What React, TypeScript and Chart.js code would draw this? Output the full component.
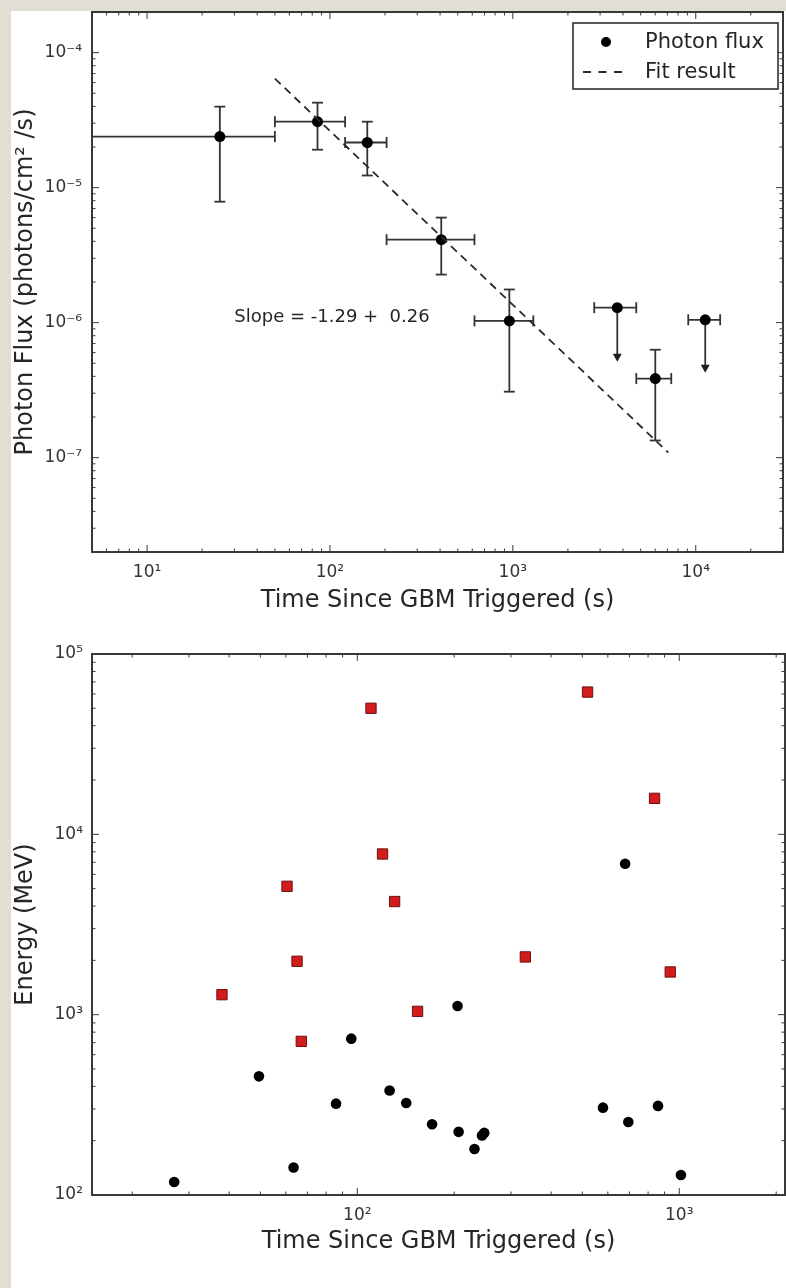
import React, { useEffect, useRef } from 'react';
import { Chart, registerables } from 'chart.js';

Chart.register(...registerables);

const FONT = '"DejaVu Sans", "Bitstream Vera Sans", "Liberation Sans", sans-serif';
const INK = '#262626';
const AXIS = '#383838';

// ---------------- top panel: photon flux light curve ----------------
const fluxTime = [25, 85.5, 160, 406, 957, 6010];
const fluxValue = [2.39e-5, 3.08e-5, 2.16e-5, 4.12e-6, 1.03e-6, 3.85e-7];
const fluxTimeLow = [1, 50, 121, 204, 617, 4730];
const fluxTimeHigh = [50, 121, 204, 617, 1294, 7350];
const fluxLow = [7.87e-6, 1.91e-5, 1.23e-5, 2.27e-6, 3.08e-7, 1.34e-7];
const fluxHigh = [3.98e-5, 4.26e-5, 3.08e-5, 6.0e-6, 1.76e-6, 6.3e-7];

const limitTime = [3724, 11270];
const limitValue = [1.29e-6, 1.05e-6];
const limitTimeLow = [2786, 9100];
const limitTimeHigh = [4730, 13600];
const limitArrowTo = [5.14e-7, 4.26e-7];

const fitTime = [50, 7080];
const fitValue = [6.42e-5, 1.09e-7];

const topXRange = [5, 30000];
const topYRange = [2e-8, 2e-4];
const topXTicks = [1e1, 1e2, 1e3, 1e4];
const topYTicks = [1e-7, 1e-6, 1e-5, 1e-4];
const topXTitle = 'Time Since GBM Triggered (s)';
const topYTitle = 'Photon Flux (photons/cm² /s)';
const legendLabels = ['Photon flux', 'Fit result'];
const slopeText = 'Slope = -1.29 +  0.26';
const slopeAt = [30, 1.09e-6];

// ---------------- bottom panel: photon energies ----------------
const blackTime = [27, 49.5, 63.4, 85.9, 95.8, 126, 141.9, 170.7, 204.8, 206.4, 231.2, 244, 248, 579.5, 679, 694.7, 859, 1012];
const blackEnergy = [118, 455, 142, 321, 736, 380, 324, 247, 1117, 224, 180, 214, 221, 305, 6875, 254, 312, 129];
const redTime = [38, 60.5, 65, 67, 110.3, 119.8, 130.6, 153.9, 332.6, 519, 838, 937.5];
const redEnergy = [1291, 5150, 1977, 711, 50000, 7780, 4240, 1043, 2090, 61500, 15830, 1725];

const bottomXRange = [15, 2130];
const bottomYRange = [100, 100000];
const bottomXTicks = [1e2, 1e3];
const bottomYTicks = [1e2, 1e3, 1e4, 1e5];
const bottomXTitle = 'Time Since GBM Triggered (s)';
const bottomYTitle = 'Energy (MeV)';

// ---------------- helpers ----------------
const SUP: Record<string, string> = {
  '-': '⁻', '0': '⁰', '1': '¹', '2': '²', '3': '³', '4': '⁴',
  '5': '⁵', '6': '⁶', '7': '⁷', '8': '⁸', '9': '⁹',
};
const pow10Label = (v: number) =>
  '10' + String(Math.round(Math.log10(v))).split('').map((c) => SUP[c] || c).join('');

function logAxis(
  range: number[],
  ticks: number[],
  title: string,
  horizontal: boolean,
  size: number,
  tickPad: number,
  titlePad: any
) {
  return {
    type: 'logarithmic',
    min: range[0],
    max: range[1],
    afterBuildTicks: (s: any) => {
      s.ticks = ticks.map((v) => ({ value: v }));
    },
    afterFit: (s: any) => {
      if (horizontal) s.height = size;
      else s.width = size;
      s.paddingTop = 0;
      s.paddingBottom = 0;
      s.paddingLeft = 0;
      s.paddingRight = 0;
    },
    grid: { display: false, drawTicks: false },
    border: { display: false },
    ticks: {
      autoSkip: false,
      maxRotation: 0,
      minRotation: 0,
      padding: tickPad,
      color: '#333',
      font: { family: FONT, size: 17 },
      callback: (v: any) => pow10Label(Number(v)),
    },
    title: {
      display: true,
      text: title,
      color: INK,
      font: { family: FONT, size: 24 },
      padding: titlePad,
    },
  };
}

// matplotlib-like frame with inward ticks on all four sides
const mplAxes = {
  id: 'mplAxes',
  afterDatasetsDraw(chart: any) {
    const { ctx, chartArea: a, scales } = chart;
    ctx.save();
    ctx.strokeStyle = AXIS;
    ctx.lineWidth = 1;
    const drawTicks = (scale: any, horizontal: boolean) => {
      const min = scale.min;
      const max = scale.max;
      const e0 = Math.floor(Math.log10(min));
      const e1 = Math.ceil(Math.log10(max));
      for (let e = e0; e <= e1; e++) {
        for (let k = 1; k <= 9; k++) {
          const v = k * Math.pow(10, e);
          if (v < min * 0.9999 || v > max * 1.0001) continue;
          const p = scale.getPixelForValue(v);
          const len = k === 1 ? 7 : 3.5;
          ctx.beginPath();
          if (horizontal) {
            ctx.moveTo(p, a.bottom);
            ctx.lineTo(p, a.bottom - len);
            ctx.moveTo(p, a.top);
            ctx.lineTo(p, a.top + len);
          } else {
            ctx.moveTo(a.left, p);
            ctx.lineTo(a.left + len, p);
            ctx.moveTo(a.right, p);
            ctx.lineTo(a.right - len, p);
          }
          ctx.stroke();
        }
      }
    };
    drawTicks(scales.x, true);
    drawTicks(scales.y, false);
    ctx.lineWidth = 2;
    ctx.strokeRect(a.left, a.top, a.right - a.left, a.bottom - a.top);
    ctx.restore();
  },
};

// error bars and upper-limit arrows for the flux panel
const fluxErrorBars = {
  id: 'fluxErrorBars',
  beforeDatasetsDraw(chart: any) {
    const { ctx, chartArea: a, scales } = chart;
    const x = scales.x;
    const y = scales.y;
    ctx.save();
    ctx.beginPath();
    ctx.rect(a.left, a.top, a.right - a.left, a.bottom - a.top);
    ctx.clip();
    ctx.strokeStyle = '#333333';
    ctx.fillStyle = '#1e1e1e';
    ctx.lineWidth = 1.8;
    const cap = 5.5;
    const seg = (x1: number, y1: number, x2: number, y2: number) => {
      ctx.beginPath();
      ctx.moveTo(x1, y1);
      ctx.lineTo(x2, y2);
      ctx.stroke();
    };
    fluxTime.forEach((t, i) => {
      const px = x.getPixelForValue(t);
      const py = y.getPixelForValue(fluxValue[i]);
      const xl = x.getPixelForValue(fluxTimeLow[i]);
      const xr = x.getPixelForValue(fluxTimeHigh[i]);
      const yt = y.getPixelForValue(fluxHigh[i]);
      const yb = y.getPixelForValue(fluxLow[i]);
      seg(xl, py, xr, py);
      seg(xl, py - cap, xl, py + cap);
      seg(xr, py - cap, xr, py + cap);
      seg(px, yt, px, yb);
      seg(px - cap, yt, px + cap, yt);
      seg(px - cap, yb, px + cap, yb);
    });
    limitTime.forEach((t, i) => {
      const px = x.getPixelForValue(t);
      const py = y.getPixelForValue(limitValue[i]);
      const xl = x.getPixelForValue(limitTimeLow[i]);
      const xr = x.getPixelForValue(limitTimeHigh[i]);
      const tip = y.getPixelForValue(limitArrowTo[i]);
      seg(xl, py, xr, py);
      seg(xl, py - cap, xl, py + cap);
      seg(xr, py - cap, xr, py + cap);
      seg(px, py, px, tip - 7);
      ctx.beginPath();
      ctx.moveTo(px - 4.5, tip - 8);
      ctx.lineTo(px + 4.5, tip - 8);
      ctx.lineTo(px, tip);
      ctx.closePath();
      ctx.fill();
    });
    ctx.restore();
  },
};

// legend box and slope annotation
const topDecor = {
  id: 'topDecor',
  afterDraw(chart: any) {
    const { ctx, chartArea: a, scales } = chart;
    ctx.save();
    ctx.fillStyle = INK;
    ctx.textBaseline = 'middle';
    ctx.textAlign = 'left';
    ctx.font = `18px ${FONT}`;
    ctx.fillText(slopeText, scales.x.getPixelForValue(slopeAt[0]), scales.y.getPixelForValue(slopeAt[1]));

    const bw = 205;
    const bh = 66;
    const bx = a.right - bw - 5;
    const by = a.top + 11;
    ctx.fillStyle = '#ffffff';
    ctx.fillRect(bx, by, bw, bh);
    ctx.lineWidth = 1.5;
    ctx.strokeStyle = '#222';
    ctx.strokeRect(bx, by, bw, bh);

    const r1 = by + 19;
    const r2 = by + 49;
    ctx.fillStyle = '#000';
    ctx.beginPath();
    ctx.arc(bx + 33, r1, 5, 0, Math.PI * 2);
    ctx.fill();
    ctx.strokeStyle = '#2a2a2a';
    ctx.lineWidth = 1.8;
    ctx.setLineDash([8, 7.5]);
    ctx.beginPath();
    ctx.moveTo(bx + 10, r2);
    ctx.lineTo(bx + 55, r2);
    ctx.stroke();
    ctx.setLineDash([]);

    ctx.fillStyle = INK;
    ctx.font = `21px ${FONT}`;
    ctx.fillText(legendLabels[0], bx + 72, r1 + 1);
    ctx.fillText(legendLabels[1], bx + 72, r2 + 1);
    ctx.restore();
  },
};

function buildTop(): any {
  return {
    type: 'scatter',
    data: {
      datasets: [
        {
          label: legendLabels[1],
          data: fitTime.map((t, i) => ({ x: t, y: fitValue[i] })),
          showLine: true,
          borderColor: '#2a2a2a',
          borderWidth: 1.8,
          borderDash: [8, 5.5],
          pointRadius: 0,
          fill: false,
        },
        {
          label: legendLabels[0],
          data: fluxTime.map((t, i) => ({ x: t, y: fluxValue[i] })),
          backgroundColor: '#000',
          borderColor: '#000',
          pointRadius: 5.5,
          borderWidth: 0,
        },
        {
          label: 'upper limits',
          data: limitTime.map((t, i) => ({ x: t, y: limitValue[i] })),
          backgroundColor: '#000',
          borderColor: '#000',
          pointRadius: 5.5,
          borderWidth: 0,
        },
      ],
    },
    options: {
      animation: false,
      responsive: false,
      devicePixelRatio: 1,
      layout: { autoPadding: false, padding: { top: 12, right: 3, left: 0, bottom: 0 } },
      plugins: { legend: { display: false }, tooltip: { enabled: false } },
      scales: {
        x: logAxis(topXRange, topXTicks, topXTitle, true, 88, 10, { top: 0, bottom: 25 }),
        y: logAxis(topYRange, topYTicks, topYTitle, false, 92, 10, { top: 11, bottom: 0 }),
      },
    },
    plugins: [fluxErrorBars, mplAxes, topDecor],
  };
}

function buildBottom(): any {
  return {
    type: 'scatter',
    data: {
      datasets: [
        {
          label: 'black',
          data: blackTime.map((t, i) => ({ x: t, y: blackEnergy[i] })),
          backgroundColor: '#000',
          borderColor: '#000',
          pointRadius: 5.3,
          borderWidth: 0,
        },
        {
          label: 'red',
          data: redTime.map((t, i) => ({ x: t, y: redEnergy[i] })),
          pointStyle: 'rect',
          backgroundColor: '#d21c1c',
          borderColor: '#6e1010',
          borderWidth: 1,
          pointRadius: 7.3,
        },
      ],
    },
    options: {
      animation: false,
      responsive: false,
      devicePixelRatio: 1,
      layout: { autoPadding: false, padding: { top: 14, right: 1, left: 0, bottom: 0 } },
      plugins: { legend: { display: false }, tooltip: { enabled: false } },
      scales: {
        x: logAxis(bottomXRange, bottomXTicks, bottomXTitle, true, 93, 10, { top: 0, bottom: 32 }),
        y: logAxis(bottomYRange, bottomYTicks, bottomYTitle, false, 92, 9, { top: 11, bottom: 0 }),
      },
    },
    plugins: [mplAxes],
  };
}

function ChartCanvas({ build, top, height }: { build: () => any; top: number; height: number }) {
  const ref = useRef<HTMLCanvasElement>(null);
  useEffect(() => {
    const chart = new Chart(ref.current as HTMLCanvasElement, build());
    return () => chart.destroy();
  }, [build]);
  return (
    <canvas
      ref={ref}
      width={786}
      height={height}
      style={{ position: 'absolute', left: 0, top, width: 786, height, display: 'block' }}
    />
  );
}

export default function App() {
  return (
    <div
      style={{
        position: 'absolute',
        left: 0,
        top: 0,
        width: 786,
        height: 1288,
        background: '#e3ded3',
        overflow: 'hidden',
      }}
    >
      <div style={{ position: 'absolute', left: 11, top: 11, right: 0, bottom: 0, background: '#ffffff' }} />
      <ChartCanvas build={buildTop} top={0} height={640} />
      <ChartCanvas build={buildBottom} top={640} height={648} />
    </div>
  );
}
